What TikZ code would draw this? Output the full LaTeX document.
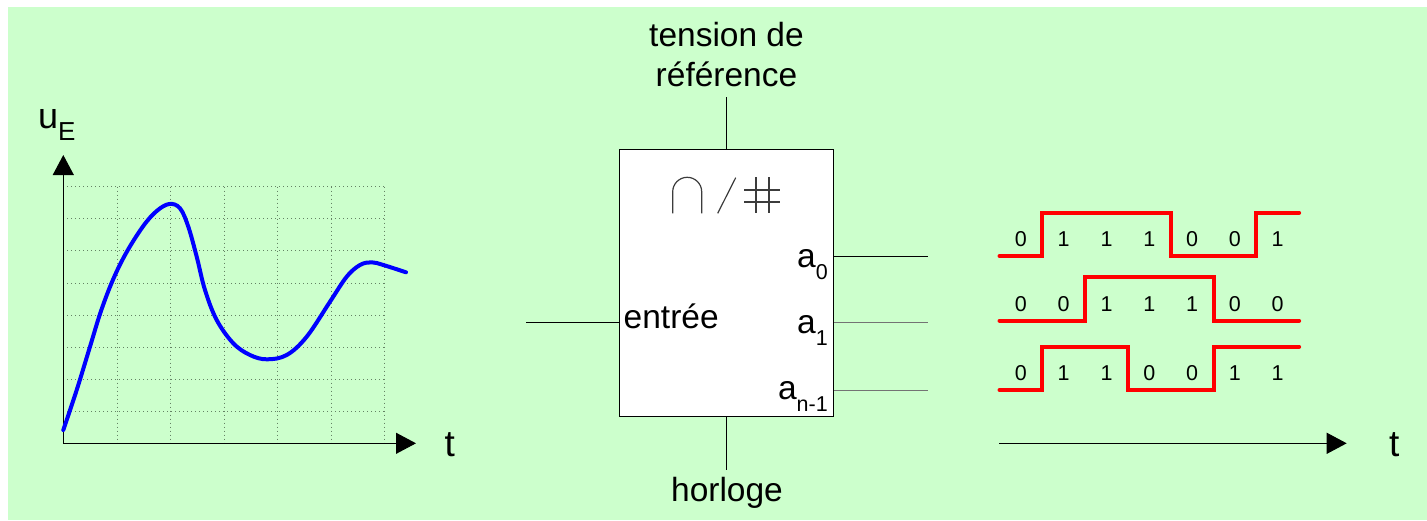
\documentclass[tikz,border=0pt]{standalone}
\usepackage{fontspec}
\setmainfont{Liberation Sans}
\usetikzlibrary{arrows.meta}

\definecolor{bggreen}{RGB}{204,255,204}
\definecolor{gridcol}{RGB}{100,130,100}
\definecolor{sigred}{RGB}{255,0,0}
\definecolor{curveblue}{RGB}{0,0,255}
\definecolor{symgray}{RGB}{60,60,60}

\newcommand\fsz[1]{\fontsize{#1}{#1}\selectfont}

\begin{document}
\begin{tikzpicture}[x=1pt,y=-1pt,
  axis/.style={line width=1pt, -{Triangle[length=20pt,width=21pt]}},
  gridline/.style={gridcol, line width=1pt, dash pattern=on 1pt off 3pt},
  wave/.style={sigred, line width=4pt, line join=miter, line cap=round},
  lbl/.style={inner sep=0pt, font=\fsz{33.5}},
  axlbl/.style={inner sep=0pt, anchor=base west, font=\fsz{37}},
  bit/.style={inner sep=0pt, anchor=base, font=\fsz{21.5}},
  wire/.style={line width=1pt},
  sym/.style={symgray, line width=1.2pt},
]
\useasboundingbox (0,0) rectangle (1427,520);
\fill[white] (0,0) rectangle (1427,520);
\fill[bggreen] (8,7) rectangle (1427,520);

% ---------- input signal u_E(t) ----------
\foreach \x in {117.3,170.7,224,277.3,331,384.3}
  \draw[gridline] (\x,186.7) -- (\x,443);
\foreach \y in {186.7,218.7,250.7,283,315,347,379,411}
  \draw[gridline] (63.3,\y) -- (384.3,\y);

\coordinate (O) at (63.3,443.3);
\coordinate (ytip) at (63.3,155);
\coordinate (xtip) at (416,443.3);
\draw[axis] (O) -- (ytip);
\draw[axis] (O) -- (xtip);

\node[lbl, anchor=base west, font=\fsz{36}] (uE) at (38,128.3)
  {u\raisebox{-12.5pt}{\fsz{26}E}};
\node[axlbl] (t1) at (444.5,456.7) {t};

\draw[curveblue, line width=4pt, line cap=round] plot[smooth, tension=0.6] coordinates {
  (63.3,430) (76.7,390) (90,346.7) (101,311) (113.3,279) (126.7,252)
  (143.3,226) (156.7,211) (169.3,204) (180,208.3) (188.3,226.7) (196.7,256.7)
  (205,290) (216.7,320) (233.3,343.3) (250,355) (266.7,359.3) (286.7,355)
  (306.7,336.7) (330,301.7) (346.7,276.7) (360,265) (371.7,262.3) (383.3,265)
  (406,272.3)};

% ---------- converter block ----------
\node[draw, fill=white, line width=1pt, minimum width=214pt,
      minimum height=267.4pt, inner sep=0pt] (adc) at (726.3,283) {};

% symbol: analogue / digital
\draw[sym] (672.7,213.3) -- (672.7,191.8)
  .. controls (672.7,183.8) and (679.2,177.3) .. (687.2,177.3)
  .. controls (695.2,177.3) and (701.7,183.8) .. (701.7,191.8) -- (701.7,213.3);
\draw[sym] (717.7,213.3) -- (735.7,177.7);
\draw[sym] (756,177) -- (756,213) (769,177) -- (769,213)
           (744.3,190) -- (780,190) (744.3,202) -- (780,202);

\coordinate (refend) at (726.3,96.7);
\coordinate (clkend) at (726.3,470);
\coordinate (inend) at (526,322.7);
\coordinate (a0end) at (927.7,256);
\coordinate (a1end) at (927.7,322.7);
\coordinate (anend) at (927.7,390);

\draw[wire] (adc.north) -- (refend);
\draw[wire] (adc.south) -- (clkend);
\draw[wire] (inend) -- (inend -| adc.west);
\draw[wire] (a0end -| adc.east) -- (a0end);
\draw[wire, black!55] (a1end -| adc.east) -- (a1end);
\draw[wire, black!55] (anend -| adc.east) -- (anend);

\node[lbl, anchor=base] (ref1) at (726.5,46.7) {tension de};
\node[lbl, anchor=base] (ref2) at (726.5,86.7) {référence};
\node[lbl, anchor=base] (clk) at (727,501) {horloge};
\node[lbl, anchor=base west] (inlbl) at (623.5,328.5) {entrée};
\node[lbl, anchor=base east] (a0) at (828,267.5) {a\raisebox{-11.5pt}{\fsz{21.5}0}};
\node[lbl, anchor=base east] (a1) at (828,333) {a\raisebox{-12pt}{\fsz{21.5}1}};
\node[lbl, anchor=base east] (an) at (828,399) {a\raisebox{-12pt}{\fsz{21.5}n-1}};

% ---------- output bit streams ----------
\draw[wave] (999.5,256) -- (1042.3,256) -- (1042.3,212.7) -- (1170.7,212.7)
  -- (1170.7,256) -- (1256.3,256) -- (1256.3,212.7) -- (1299.1,212.7);
\draw[wave] (999.5,320.7) -- (1085.1,320.7) -- (1085.1,277.3) -- (1213.5,277.3)
  -- (1213.5,320.7) -- (1299.1,320.7);
\draw[wave] (999.5,390) -- (1042.3,390) -- (1042.3,346.7) -- (1127.9,346.7)
  -- (1127.9,390) -- (1213.5,390) -- (1213.5,346.7) -- (1299.1,346.7);

\foreach \row/\yb/\bits in {1/246.7/{0,1,1,1,0,0,1},
                            2/311/{0,0,1,1,1,0,0},
                            3/380.5/{0,1,1,0,0,1,1}} {
  \foreach \b [count=\k from 0] in \bits {
    \node[bit] (b\row-\k) at ({1020.9+42.8*\k},\yb) {\b};
  }
}

\coordinate (t0) at (999,443.3);
\coordinate (ttip) at (1346.7,443.3);
\draw[axis] (t0) -- (ttip);
\node[axlbl] (t2) at (1389,456.7) {t};
\end{tikzpicture}
\end{document}
